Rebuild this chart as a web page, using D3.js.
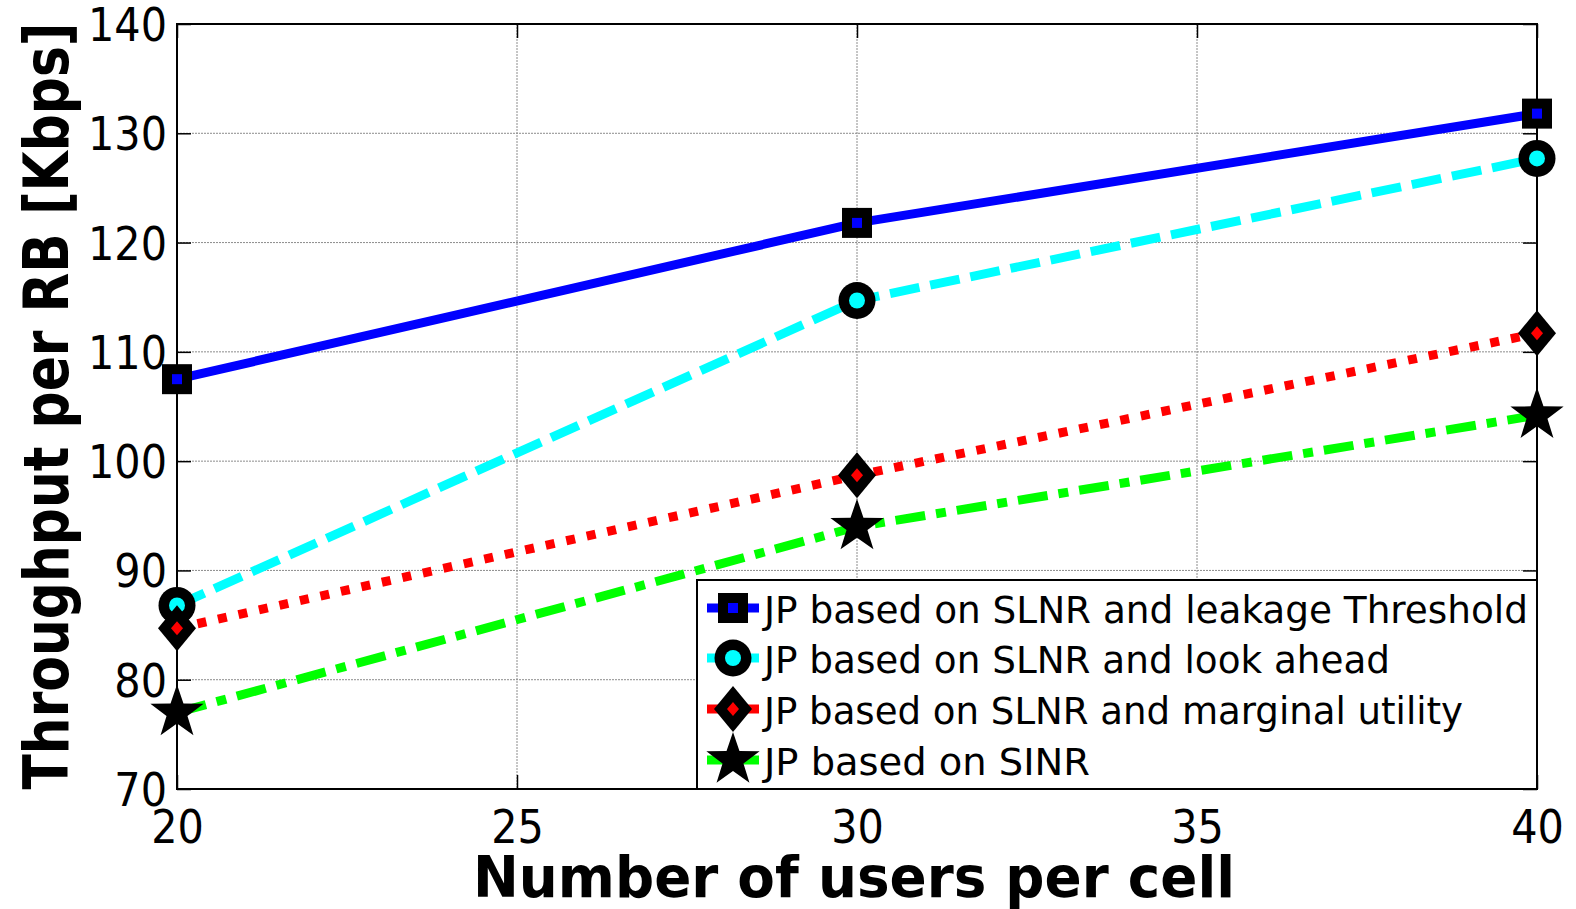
<!DOCTYPE html>
<html>
<head>
<meta charset="utf-8">
<script src="https://cdn.jsdelivr.net/npm/d3@7"></script>
<style>
  body { margin: 0; background: #fff; }
  svg { display: block; }
  text { font-family: "DejaVu Sans Condensed", "DejaVu Sans", sans-serif; fill: #000; }
</style>
</head>
<body>
<script>
// data
const users = [20, 30, 40];
const leakageThreshold = [107.5, 121.8, 131.8];
const lookAhead = [86.8, 114.7, 127.7];
const marginalUtility = [84.7, 98.7, 111.7];
const sinr = [77.0, 94.0, 104.2];
const seriesNames = [
  'JP based on SLNR and leakage Threshold',
  'JP based on SLNR and look ahead',
  'JP based on SLNR and marginal utility',
  'JP based on SINR'
];
const xTicks = [20, 25, 30, 35, 40];
const yTicks = [70, 80, 90, 100, 110, 120, 130, 140];

const W = 1576, H = 909;
const plotLeft = 177, plotRight = 1537, plotTop = 24, plotBottom = 789;

const svg = d3.select('body').append('svg')
  .attr('width', W)
  .attr('height', H);

const x = d3.scaleLinear().domain([20, 40]).range([plotLeft, plotRight]);
const y = d3.scaleLinear().domain([70, 140]).range([plotBottom, plotTop]);

// grid
const grid = svg.append('g');
grid.selectAll('line.gx')
  .data(xTicks.slice(1, -1))
  .enter().append('line')
  .attr('x1', d => x(d)).attr('x2', d => x(d))
  .attr('y1', plotTop).attr('y2', plotBottom)
  .attr('stroke', '#8c8c8c').attr('stroke-width', 1).attr('stroke-dasharray', '2,1');
grid.selectAll('line.gy')
  .data(yTicks.slice(1, -1))
  .enter().append('line')
  .attr('x1', plotLeft).attr('x2', plotRight)
  .attr('y1', d => y(d)).attr('y2', d => y(d))
  .attr('stroke', '#8c8c8c').attr('stroke-width', 1).attr('stroke-dasharray', '2,1');

// axes (inner ticks like matlab)
const tickLen = 14;
svg.append('g')
  .attr('transform', `translate(0,${plotBottom})`)
  .call(d3.axisBottom(x).tickValues(xTicks).tickSize(-tickLen).tickPadding(19).tickFormat(d3.format('d')))
  .call(g => g.select('.domain').remove())
  .call(g => g.selectAll('text').attr('font-size', 46).attr('dy', '0.76em'));
svg.append('g')
  .attr('transform', `translate(0,${plotTop})`)
  .call(d3.axisTop(x).tickValues(xTicks).tickSize(-tickLen).tickFormat(''))
  .call(g => g.select('.domain').remove());
svg.append('g')
  .attr('transform', `translate(${plotLeft},0)`)
  .call(d3.axisLeft(y).tickValues(yTicks).tickSize(-tickLen).tickPadding(10).tickFormat(d3.format('d')))
  .call(g => g.select('.domain').remove())
  .call(g => g.selectAll('text').attr('font-size', 46).attr('dy', '0.36em'));
svg.append('g')
  .attr('transform', `translate(${plotRight},0)`)
  .call(d3.axisRight(y).tickValues(yTicks).tickSize(-tickLen).tickFormat(''))
  .call(g => g.select('.domain').remove());
svg.selectAll('.tick line').attr('stroke', '#000').attr('stroke-width', 1.5);
svg.selectAll('.tick text').attr('fill', '#000');
svg.selectAll('g[font-family]').attr('font-family', null);

svg.append('rect')
  .attr('x', plotLeft).attr('y', plotTop)
  .attr('width', plotRight - plotLeft).attr('height', plotBottom - plotTop)
  .attr('fill', 'none').attr('stroke', '#000').attr('stroke-width', 2);

// markers
function marker(g, type) {
  if (type === 'square') {
    g.append('rect').attr('x', -15).attr('y', -15).attr('width', 30).attr('height', 30).attr('fill', '#000');
    g.append('rect').attr('x', -5).attr('y', -5).attr('width', 10).attr('height', 10).attr('fill', '#0000ff');
  } else if (type === 'circle') {
    g.append('circle').attr('r', 18.5).attr('fill', '#000');
    g.append('circle').attr('r', 8).attr('fill', '#00ffff');
  } else if (type === 'diamond') {
    g.append('path').attr('d', 'M0,-23L19,0L0,23L-19,0Z').attr('fill', '#000');
    g.append('path').attr('d', 'M0,-7L6,0L0,7L-6,0Z').attr('fill', '#ff0000');
  } else {
    const pts = d3.range(10).map(i => {
      const r = i % 2 === 0 ? 28 : 11;
      const a = -Math.PI / 2 + i * Math.PI / 5;
      return [r * Math.cos(a), r * Math.sin(a)];
    });
    g.append('path').attr('d', 'M' + pts.join('L') + 'Z').attr('fill', '#000');
  }
}

const series = [
  { name: seriesNames[0], values: leakageThreshold, color: '#0000ff', dash: null, marker: 'square' },
  { name: seriesNames[1], values: lookAhead, color: '#00ffff', dash: '30,11', marker: 'circle' },
  { name: seriesNames[2], values: marginalUtility, color: '#ff0000', dash: '9,12', marker: 'diamond' },
  { name: seriesNames[3], values: sinr, color: '#00ff00', dash: '30,11,10,11', marker: 'star' }
];

const line = d3.line().x(d => x(d[0])).y(d => y(d[1]));

series.forEach(s => {
  svg.append('path')
    .datum(users.map((u, i) => [u, s.values[i]]))
    .attr('d', line)
    .attr('fill', 'none')
    .attr('stroke', s.color)
    .attr('stroke-width', 9)
    .attr('stroke-dasharray', s.dash);
});
series.forEach(s => {
  users.forEach((u, i) => {
    const g = svg.append('g').attr('transform', `translate(${x(u)},${y(s.values[i])})`);
    marker(g, s.marker);
  });
});

// legend
const lg = svg.append('g');
lg.append('rect')
  .attr('x', 697).attr('y', 580)
  .attr('width', plotRight - 697).attr('height', plotBottom - 580)
  .attr('fill', '#fff').attr('stroke', '#000').attr('stroke-width', 2);
const rowY = [608, 658, 709, 760];
const legendWidths = [764, 626, 699, 326];
series.forEach((s, i) => {
  const g = lg.append('g').attr('transform', `translate(0,${rowY[i]})`);
  g.append('line')
    .attr('x1', 707).attr('x2', 759)
    .attr('stroke', s.color).attr('stroke-width', 9);
  const m = g.append('g').attr('transform', 'translate(733,0)');
  marker(m, s.marker);
  g.append('text')
    .attr('x', 764).attr('y', 0).attr('dy', '0.41em')
    .attr('font-size', 37)
    .attr('textLength', legendWidths[i])
    .attr('lengthAdjust', 'spacingAndGlyphs')
    .text(s.name);
});

// axis titles
svg.append('text')
  .attr('x', 854).attr('y', 897)
  .attr('text-anchor', 'middle')
  .attr('font-size', 57).attr('font-weight', 'bold')
  .attr('textLength', 762).attr('lengthAdjust', 'spacingAndGlyphs')
  .style('font-family', '"DejaVu Sans", sans-serif')
  .text('Number of users per cell');

svg.append('text')
  .attr('transform', 'translate(68,406) rotate(-90)')
  .attr('text-anchor', 'middle')
  .attr('font-size', 62).attr('font-weight', 'bold')
  .attr('textLength', 767).attr('lengthAdjust', 'spacingAndGlyphs')
  .style('font-family', '"DejaVu Sans", sans-serif')
  .text('Throughput per RB [Kbps]');
</script>
</body>
</html>
